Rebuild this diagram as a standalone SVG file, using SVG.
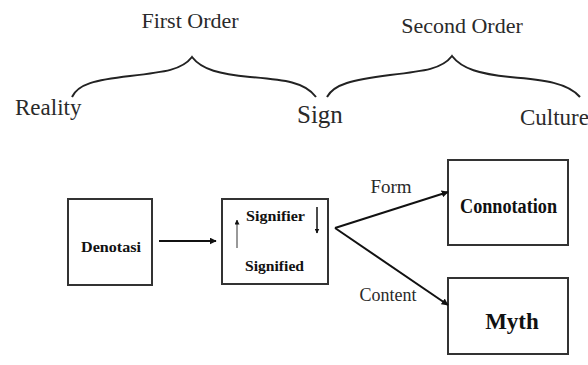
<svg xmlns="http://www.w3.org/2000/svg" width="588" height="365" viewBox="0 0 588 365">
<defs>
<style>
.t{font-family:"Liberation Serif","Times New Roman",serif;fill:#2a2a2a}
.b{font-family:"Liberation Serif","Times New Roman",serif;font-weight:bold;fill:#111}
.box{fill:#fff;stroke:#333;stroke-width:2}
.br{fill:none;stroke:#222;stroke-width:2}
.ln{fill:none;stroke:#111;stroke-width:2}
</style>
<marker id="ah" viewBox="0 0 10 10" refX="9" refY="5" markerWidth="5" markerHeight="5" orient="auto-start-reverse" markerUnits="userSpaceOnUse">
<path d="M0,0 L10,5 L0,10 z" fill="#111"/>
</marker>
<marker id="ah2" viewBox="0 0 10 10" refX="9" refY="5" markerWidth="7" markerHeight="7" orient="auto" markerUnits="userSpaceOnUse">
<path d="M0,0 L10,5 L0,10 z" fill="#111"/>
</marker>
</defs>
<rect width="588" height="365" fill="#fff"/>
<g id="top">
<text class="t" x="190" y="28" font-size="22" text-anchor="middle">First Order</text>
<text class="t" x="462" y="33" font-size="22" text-anchor="middle">Second Order</text>
<text class="t" x="15" y="115" font-size="23">Reality</text>
<text class="t" x="297" y="123" font-size="25">Sign</text>
<text class="t" x="520" y="125" font-size="23">Culture</text>
<path class="br" d="M72,97 C78,84 95,80 130,76 C165,72 182,70 192,57 C202,70 220,74 250,77 C285,80 305,82 316,97"/>
<path class="br" d="M327,97 C334,84 352,80 390,75 C425,71 442,69 452,56 C462,69 480,74 510,77 C545,80 568,83 580,97"/>
</g>
<g id="denotasi">
<rect class="box" x="68" y="199" width="84" height="86"/>
<text class="b" x="81" y="252" font-size="14" textLength="60" lengthAdjust="spacingAndGlyphs">Denotasi</text>
</g>
<g id="sign">
<rect class="box" x="222" y="199" width="106" height="85"/>
<text class="b" x="246" y="221" font-size="14" textLength="59" lengthAdjust="spacingAndGlyphs">Signifier</text>
<text class="b" x="245" y="271" font-size="14" textLength="59" lengthAdjust="spacingAndGlyphs">Signified</text>
<line x1="237" y1="248" x2="237" y2="220" stroke="#777" stroke-width="1.5" marker-end="url(#ah)"/>
<line x1="317" y1="207" x2="317" y2="233" stroke="#111" stroke-width="1.5" marker-end="url(#ah)"/>
</g>
<g id="connotation">
<rect class="box" x="448" y="160" width="120" height="85"/>
<text class="b" x="460" y="213" font-size="20" textLength="97" lengthAdjust="spacingAndGlyphs">Connotation</text>
</g>
<g id="myth">
<rect class="box" x="448" y="278" width="120" height="76"/>
<text class="b" x="512" y="329" font-size="23" text-anchor="middle">Myth</text>
</g>
<g id="connectors">
<line class="ln" x1="159" y1="241" x2="216" y2="241" marker-end="url(#ah2)"/>
<path class="ln" d="M335,228 L448,192" stroke-width="2.5" marker-end="url(#ah2)"/>
<path class="ln" d="M335,228 L448,305" marker-end="url(#ah2)"/>
<text class="t" x="391" y="193" font-size="19" text-anchor="middle">Form</text>
<text class="t" x="388" y="301" font-size="18" text-anchor="middle">Content</text>
</g>
</svg>
